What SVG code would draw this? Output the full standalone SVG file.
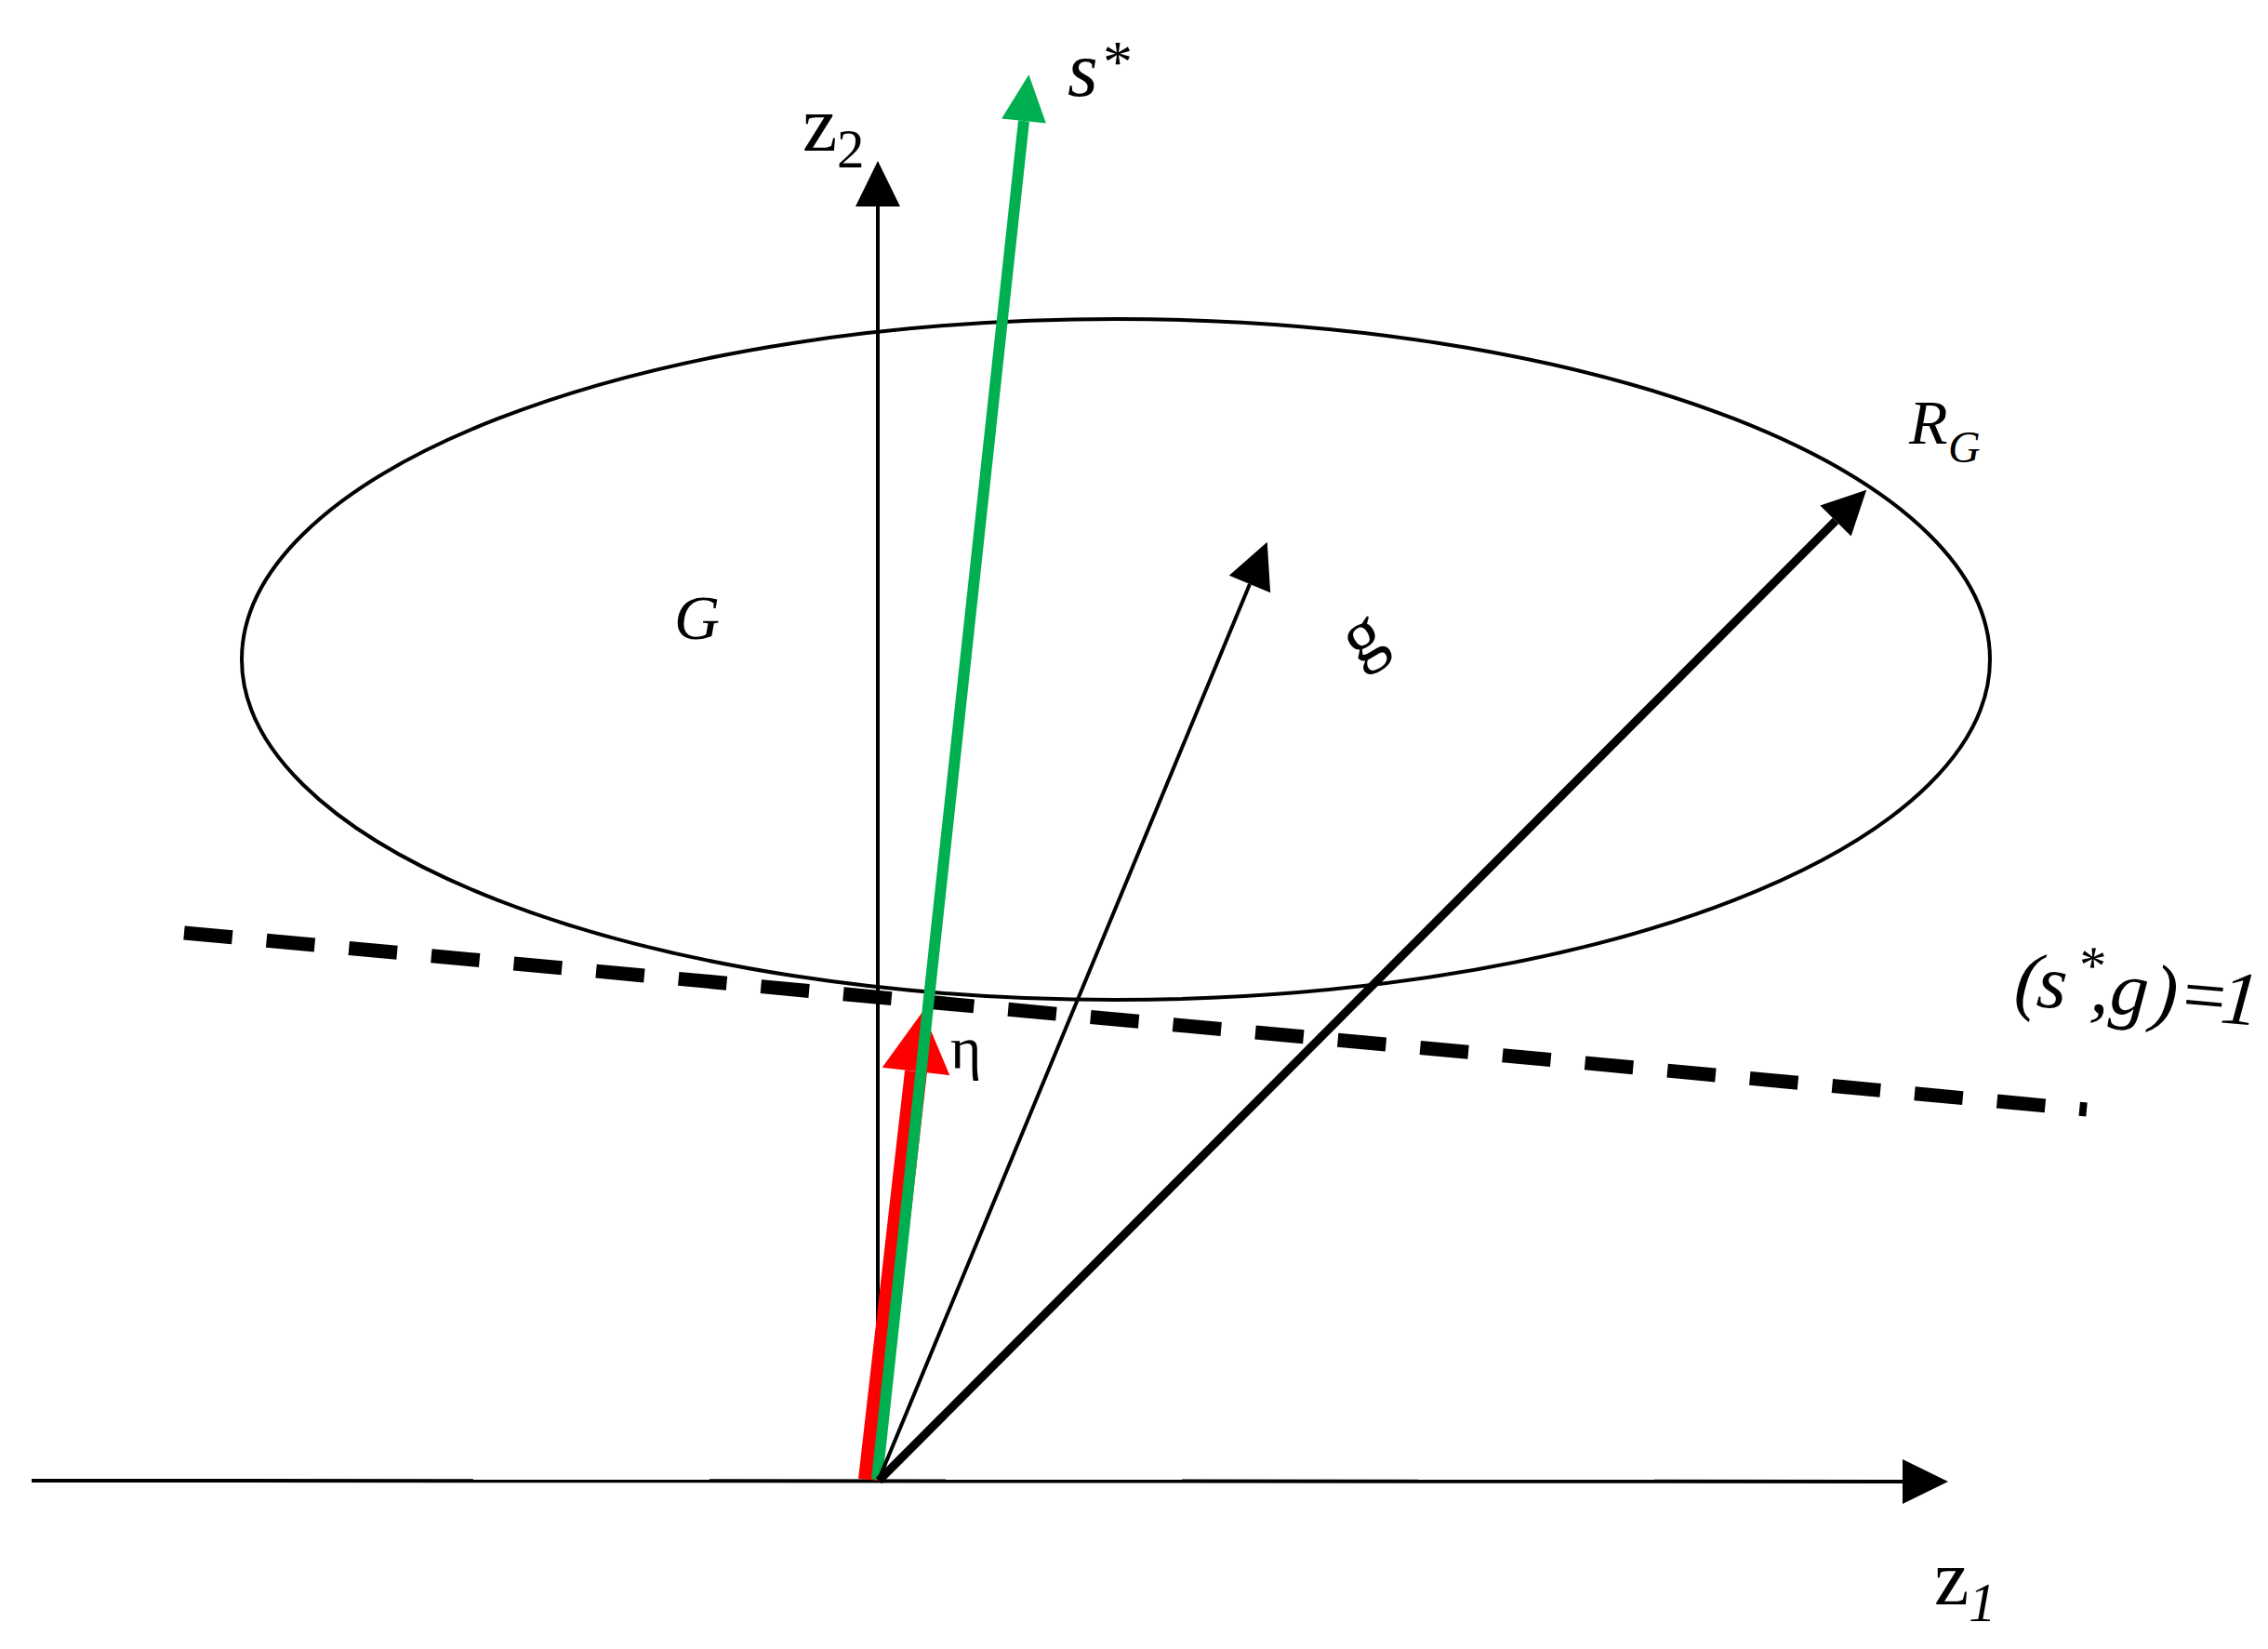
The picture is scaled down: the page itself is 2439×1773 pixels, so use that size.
<svg xmlns="http://www.w3.org/2000/svg" width="2439" height="1773" viewBox="0 0 2439 1773">
<style>
  .lbl { font-family: "Liberation Serif", "DejaVu Serif", serif; fill: #000; }
  .it { font-style: italic; }
  .thin { stroke: #000; stroke-width: 4; fill: none; }
</style>
<defs>
  <marker id="ahBlack" markerUnits="userSpaceOnUse" markerWidth="49" markerHeight="48" refX="0" refY="24" orient="auto" overflow="visible">
    <path d="M0,0 L49,24 L0,48 Z" fill="#000"/>
  </marker>
  <marker id="ahRG" markerUnits="userSpaceOnUse" markerWidth="47" markerHeight="47" refX="0" refY="23.5" orient="auto" overflow="visible">
    <path d="M0,0 L47,23.5 L0,47 Z" fill="#000"/>
  </marker>
  <marker id="ahGreen" markerUnits="userSpaceOnUse" markerWidth="50" markerHeight="48" refX="0" refY="24" orient="auto" overflow="visible">
    <path d="M0,0 L50,24 L0,48 Z" fill="#00B050"/>
  </marker>
  <marker id="ahRed" markerUnits="userSpaceOnUse" markerWidth="65" markerHeight="73" refX="0" refY="36.5" orient="auto" overflow="visible">
    <path d="M0,0 L65,36.5 L0,73 Z" fill="#FF0000"/>
  </marker>
</defs>
<rect width="2439" height="1773" fill="#fff"/>

<g id="region-G">
  <ellipse cx="1200" cy="709" rx="940" ry="366" class="thin"/>
  <text class="lbl it" x="725" y="687" font-size="68">G</text>
</g>

<g id="hyperplane">
  <line x1="198" y1="1003" x2="2244" y2="1193" stroke="#000" stroke-width="15" stroke-dasharray="52 37"/>
  <g transform="translate(2165,1080) rotate(5)">
    <text class="lbl it" font-size="82"><tspan x="0 24" y="0">(s</tspan><tspan x="64" y="-30" font-size="58">*</tspan><tspan x="82 103 148 176 222" y="0">,g)=1</tspan></text>
  </g>
</g>

<g id="connectors">
  <line id="axis-z1" x1="34" y1="1592" x2="2046" y2="1593" class="thin" marker-end="url(#ahBlack)"/>
  <line id="axis-z2" x1="944" y1="1592" x2="944" y2="222" class="thin" marker-end="url(#ahBlack)"/>
  <line id="vec-eta" x1="935" y1="1591" x2="985" y2="1152" stroke="#FF0000" stroke-width="24" marker-end="url(#ahRed)"/>
  <line id="vec-s" x1="943" y1="1591" x2="1101" y2="130" stroke="#00B050" stroke-width="12" marker-end="url(#ahGreen)"/>
  <line id="vec-g" x1="945" y1="1591" x2="1344" y2="628" class="thin" marker-end="url(#ahBlack)"/>
  <line id="vec-RG" x1="945" y1="1592" x2="1974" y2="560" stroke="#000" stroke-width="9" marker-end="url(#ahRG)"/>
</g>

<g id="label-z1">
  <text class="lbl" x="2080" y="1725" font-size="84">z</text>
  <text class="lbl it" x="2117" y="1743" font-size="59">1</text>
</g>
<g id="label-z2">
  <text class="lbl" x="863" y="162" font-size="84">z</text>
  <text class="lbl" x="900" y="180" font-size="59">2</text>
</g>
<g id="label-s">
  <text class="lbl it" x="1148" y="103" font-size="84">s</text>
  <text class="lbl" x="1186" y="88" font-size="64">*</text>
</g>
<g id="label-eta">
  <text class="lbl" x="1022" y="1148" font-size="64">η</text>
</g>
<g id="label-g">
  <text class="lbl" x="0" y="10" font-size="80" text-anchor="middle" transform="translate(1472,697) rotate(-30)">g</text>
</g>
<g id="label-RG">
  <text class="lbl it" x="2053" y="477" font-size="68">R</text>
  <text class="lbl it" x="2095" y="497" font-size="48">G</text>
</g>
</svg>
